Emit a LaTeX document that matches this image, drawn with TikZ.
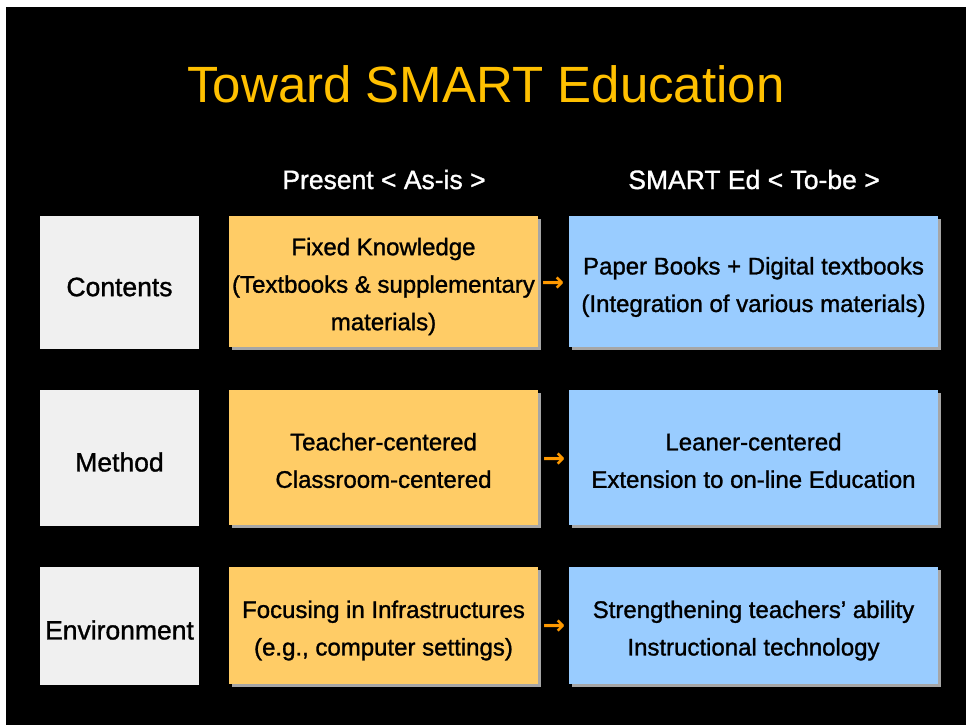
\documentclass[tikz,border=0pt]{standalone}
\usepackage{fontspec}
\setmainfont{Liberation Sans}
\newfontfamily\medfont{Liberation Sans}[FakeBold=1.2]
\newfontfamily\arrowfont{DejaVu Sans Bold}
\usetikzlibrary{shadows}
\definecolor{titlegold}{HTML}{FFC000}
\definecolor{grayfill}{HTML}{F0F0F0}
\definecolor{orangefill}{HTML}{FFCC66}
\definecolor{bluefill}{HTML}{99CCFF}
\definecolor{shadowgray}{HTML}{A6A6A6}
\definecolor{arroworange}{HTML}{FF9900}
\tikzset{
  boxbase/.style={inner sep=0pt},
  labelbox/.style={boxbase, fill=grayfill, minimum width=159pt},
  nowbox/.style={boxbase, fill=orangefill, minimum width=309pt,
    drop shadow={shadow xshift=3pt, shadow yshift=-3pt, fill=shadowgray, opacity=1}},
  tobebox/.style={boxbase, fill=bluefill, minimum width=369pt,
    drop shadow={shadow xshift=3pt, shadow yshift=-3pt, fill=shadowgray, opacity=1}},
  celltext/.style={inner sep=0pt, align=center, text=black, font=\medfont\fontsize{24}{37.5}\selectfont},
  labeltext/.style={inner sep=0pt, align=center, text=black, font=\medfont\fontsize{26.5}{32}\selectfont},
  header/.style={inner sep=0pt, text=white, anchor=base, font=\medfont\fontsize{26.5}{32}\selectfont},
  arrowglyph/.style={inner sep=0pt, text=arroworange, font=\arrowfont\fontsize{27}{30}\selectfont}
}
\begin{document}
\begin{tikzpicture}[x=1pt, y=-1pt]
\fill[white] (0,0) rectangle (966,725);
\useasboundingbox (0,0) rectangle (966,725);
\fill[black] (6,7) rectangle (966,725);

\node[inner sep=0pt, anchor=base, text=titlegold, font=\fontsize{51}{60}\selectfont] (title) at (486,102) {Toward SMART Education};

\node[header] (h1) at (384,189) {Present < As-is >};
\node[header] (h2) at (754,189) {SMART Ed < To-be >};

% Row 1
\node[labelbox, minimum height=133pt] (l1) at (119.5,282.5) {};
\node[labeltext] (l1t) at ([yshift=-4.5pt]l1.center) {Contents};
\node[nowbox, minimum height=131pt] (n1) at (383.5,281.5) {};
\node[celltext] (n1t) at ([yshift=-5pt]n1.center) {Fixed Knowledge\\(Textbooks \& supplementary\\materials)};
\node[tobebox, minimum height=131pt] (t1) at (753.5,281.5) {};
\node[celltext] (t1t) at ([yshift=-5.5pt]t1.center) {Paper Books + Digital textbooks\\(Integration of various materials)};
\node[arrowglyph] (a1) at (553,284) {→};

% Row 2
\node[labelbox, minimum height=136pt] (l2) at (119.5,458) {};
\node[labeltext] (l2t) at ([yshift=-4pt]l2.center) {Method};
\node[nowbox, minimum height=135pt] (n2) at (383.5,457.5) {};
\node[celltext] (n2t) at ([yshift=-3pt]n2.center) {Teacher-centered\\Classroom-centered};
\node[tobebox, minimum height=135pt] (t2) at (753.5,457.5) {};
\node[celltext] (t2t) at ([yshift=-3pt]t2.center) {Leaner-centered\\Extension to on-line Education};
\node[arrowglyph] (a2) at (554,460) {→};

% Row 3
\node[labelbox, minimum height=118pt] (l3) at (119.5,626) {};
\node[labeltext] (l3t) at ([yshift=-4pt]l3.center) {Environment};
\node[nowbox, minimum height=117pt] (n3) at (383.5,625.5) {};
\node[celltext] (n3t) at ([yshift=-5pt]n3.center) {Focusing in Infrastructures\\(e.g., computer settings)};
\node[tobebox, minimum height=117pt] (t3) at (753.5,625.5) {};
\node[celltext] (t3t) at ([yshift=-5pt]t3.center) {Strengthening teachers’ ability\\Instructional technology};
\node[arrowglyph] (a3) at (554,627) {→};
\end{tikzpicture}
\end{document}
